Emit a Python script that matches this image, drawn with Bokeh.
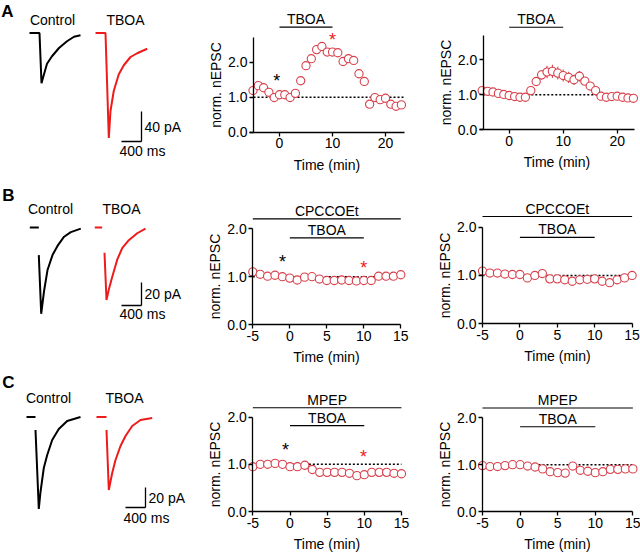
import numpy as np
from bokeh.plotting import figure
from bokeh.layouts import column, row
from bokeh.models import Range1d, FixedTicker, NumeralTickFormatter
from bokeh.core.properties import value
from bokeh.embed import file_html
from bokeh.resources import INLINE

FONT = "Liberation Sans"
FS = "14px"
MARK = "#d8414c"
RED = "#ee1b1b"

# ---------------- data ----------------
TIME_A = [-5, -4, -3, -2, -1, 0, 1, 2, 3, 4, 5, 6, 7, 8, 9, 10, 11, 12, 13, 14,
          15, 16, 17, 18, 19, 20, 21, 22, 23]
A1_NEPSC = [1.19, 1.33, 1.27, 1.14, 0.99, 1.07, 1.07, 0.99, 1.11, 1.47, 1.90, 2.10,
            2.36, 2.45, 2.29, 2.29, 2.27, 2.02, 2.10, 2.05, 1.67, 1.45, 0.80, 0.99,
            0.93, 0.97, 0.80, 0.74, 0.78]
A2_NEPSC = [1.12, 1.10, 1.08, 1.04, 1.01, 0.98, 0.95, 0.93, 0.93, 1.12, 1.38, 1.57,
            1.65, 1.67, 1.62, 1.55, 1.50, 1.43, 1.53, 1.39, 1.25, 1.12, 0.96, 0.93,
            0.95, 0.96, 0.93, 0.91, 0.90]
A2_SEM = [0.03, 0.03, 0.03, 0.03, 0.03, 0.03, 0.03, 0.03, 0.03, 0.06, 0.10, 0.14,
          0.18, 0.19, 0.18, 0.17, 0.16, 0.15, 0.15, 0.12, 0.09, 0.06, 0.03, 0.03,
          0.03, 0.03, 0.03, 0.03, 0.03]

TIME_BC = [-5, -4, -3, -2, -1, 0, 1, 2, 3, 4, 5, 6, 7, 8, 9, 10, 11, 12, 13, 14, 15]
B1_NEPSC = [1.10, 1.05, 1.01, 1.03, 1.00, 0.97, 0.93, 0.99, 1.00, 0.95, 0.92, 0.92,
            0.93, 0.92, 0.91, 0.92, 0.92, 1.01, 1.01, 1.01, 1.04]
B2_NEPSC = [1.09, 1.05, 1.05, 1.03, 1.02, 1.02, 0.95, 1.00, 1.04, 0.93, 0.93, 0.91,
            0.88, 0.91, 0.92, 0.93, 0.88, 0.85, 0.91, 0.95, 1.00]
C1_NEPSC = [0.95, 1.00, 1.00, 1.02, 1.00, 0.95, 0.95, 0.98, 0.89, 0.83, 0.83, 0.83,
            0.83, 0.81, 0.76, 0.78, 0.83, 0.83, 0.83, 0.81, 0.80]
C2_NEPSC = [0.98, 0.96, 0.96, 0.98, 1.00, 1.00, 0.97, 0.95, 0.91, 0.85, 0.83, 0.82,
            0.97, 0.88, 0.86, 0.83, 0.85, 0.90, 0.90, 0.91, 0.91]

# drug application bars: (label, start min, end min, level)
A1_BARS = [("TBOA", 0, 10, 3.00)]
A2_BARS = [("TBOA", 0, 10, 2.93)]
B1_BARS = [("CPCCOEt", -5, 15, 2.21), ("TBOA", 0, 10, 1.81)]
B2_BARS = [("CPCCOEt", -5, 15, 2.22), ("TBOA", 0, 10, 1.79)]
C1_BARS = [("MPEP", -5, 15, 2.20), ("TBOA", 0, 10, 1.82)]
C2_BARS = [("MPEP", -5, 15, 2.21), ("TBOA", 0, 10, 1.81)]

# significance asterisks: (x, y, colour)
A1_STARS = [(-0.5, 1.59, "black"), (10.0, 2.76, RED)]
B1_STARS = [(-1.0, 1.39, "black"), (10.0, 1.27, RED)]
C1_STARS = [(-0.6, 1.38, "black"), (9.9, 1.24, RED)]

NAN = float("nan")
# example EPSC traces: time (ms), current (pA)
A_CTRL_T = [0, 200, 240, 290, 350, 450, 590, 750, 890, 1020]
A_CTRL_I = [0, 0, -67, -55, -41, -31, -20, -11, -5, -3]
A_TBOA_T = [0, 200, 266, 300, 366, 466, 566, 700, 834, 1034]
A_TBOA_I = [0, 0, -140, -104, -77, -55, -43, -32, -27, -21]
B_CTRL_T = [0, 180, NAN, 180, 228, 286, 354, 454, 554, 686, 820, 1020]
B_CTRL_I = [0, 0, NAN, -24, -75, -55, -37, -24, -16, -8, -4, -1]
B_TBOA_T = [0, 147, NAN, 194, 234, 280, 348, 448, 548, 680, 848, 1014]
B_TBOA_I = [0, 0, NAN, -22, -63, -54, -43, -28, -18, -11, -5, -1]
C_CTRL_T = [0, 180, NAN, 180, 246, 280, 346, 414, 514, 646, 814, 1080]
C_CTRL_I = [0, 0, NAN, -13, -92, -75, -51, -38, -23, -12, -4, 0]
C_TBOA_T = [0, 200, NAN, 200, 246, 314, 380, 480, 580, 714, 880, 1114]
C_TBOA_I = [0, 0, NAN, -13, -73, -56, -43, -29, -19, -9, -3, -1]
SCALE_MS = [400, 400, 400]
SCALE_PA = [40, 20, 20]

# ---------------- layout helpers ----------------
COL_EDGES = [0, 200, 420, 640]
ROW_EDGES = [0, 180, 365, 552]
MS_PER_PX = 20.0


def style_axis(ax):
    ax.axis_line_width = 1.3
    ax.axis_line_color = "black"
    ax.major_tick_line_width = 1.3
    ax.major_tick_line_color = "black"
    ax.major_tick_in = 0
    ax.major_tick_out = 4
    ax.minor_tick_line_color = None
    ax.major_label_text_font = FONT
    ax.major_label_text_font_size = FS
    ax.major_label_text_color = "black"
    ax.axis_label_text_font = FONT
    ax.axis_label_text_font_size = FS
    ax.axis_label_text_font_style = "normal"
    ax.axis_label_text_color = "black"


def make_plot(col, r, xmap, ymap, yaxis_x, xbounds, ytop, xticks,
              t, y, bars, sem=None, stars=None):
    cl, cr = COL_EDGES[col], COL_EDGES[col + 1]
    ct, cb = ROW_EDGES[r], ROW_EDGES[r + 1]
    px0, ppx = xmap
    py0, ppy = ymap
    x0 = (cl - px0) / ppx
    x1 = (cr - px0) / ppx
    y0 = (py0 - cb) / ppy
    y1 = (py0 - ct) / ppy
    p = figure(width=cr - cl, height=cb - ct, x_range=Range1d(x0, x1),
               y_range=Range1d(y0, y1), min_border=0, output_backend="svg",
               toolbar_location=None, title=None)
    p.outline_line_color = None
    p.grid.visible = False
    xa = p.xaxis[0]
    ya = p.yaxis[0]
    style_axis(xa)
    style_axis(ya)
    xa.fixed_location = 0
    ya.fixed_location = yaxis_x
    xa.bounds = xbounds
    ya.bounds = (0, ytop)
    xa.ticker = FixedTicker(ticks=xticks)
    xa.major_label_overrides = {tk: str(tk) for tk in xticks}
    ya.ticker = FixedTicker(ticks=[0, 1, 2])
    ya.formatter = NumeralTickFormatter(format="0.0")
    xa.axis_label = "Time (min)"
    ya.axis_label = "norm. nEPSC"
    xa.major_label_standoff = 2
    ya.major_label_standoff = 2
    xa.axis_label_standoff = 5
    ya.axis_label_standoff = 1

    # dotted baseline
    p.segment(x0=[yaxis_x], y0=[1.0], x1=[xbounds[1]], y1=[1.0],
              line_color="black", line_width=1.5, line_dash="2 2")
    # drug bars
    p.segment(x0=[b[1] for b in bars], y0=[b[3] for b in bars],
              x1=[b[2] for b in bars], y1=[b[3] for b in bars],
              line_color="black", line_width=1.2)
    p.text(x=[(b[1] + b[2]) / 2 for b in bars], y=[b[3] for b in bars],
           text=[b[0] for b in bars], text_font=value(FONT),
           text_font_size=value(FS), text_align="center",
           text_baseline="middle", y_offset=-8, text_color="black")
    if sem is not None:
        lo = [a - b for a, b in zip(y, sem)]
        hi = [a + b for a, b in zip(y, sem)]
        p.segment(x0=t, y0=lo, x1=t, y1=hi, line_color=MARK, line_width=1.1)
    p.scatter(t, y, marker="circle", size=8.2, fill_color="white",
              line_color=MARK, line_width=1.1)
    if stars:
        p.text(x=[s[0] for s in stars], y=[s[1] for s in stars],
               text=["*" for s in stars], text_color=[s[2] for s in stars],
               text_font=value(FONT), text_font_size=value("18px"),
               text_align="center", text_baseline="middle", y_offset=4)
    return p


def make_traces(r, x0, yb, k, tboa_x, ctrl_t, ctrl_i, tboa_t, tboa_i,
                scale_ms, scale_pa, corner, letter, letter_pos, title_y,
                ms_label_dy):
    ct, cb = ROW_EDGES[r], ROW_EDGES[r + 1]
    cw = COL_EDGES[1]

    def tx(xr):
        return (xr - x0) * MS_PER_PX

    def ty(yr):
        return (yb - yr) * k

    p = figure(width=cw, height=cb - ct,
               x_range=Range1d(tx(0), tx(cw)),
               y_range=Range1d(ty(cb), ty(ct)),
               min_border=0, x_axis_type=None, y_axis_type=None,
               output_backend="svg", toolbar_location=None, title=None)
    p.outline_line_color = None
    p.grid.visible = False
    p.line(ctrl_t, ctrl_i, line_color="black", line_width=2.0)
    shift = tx(tboa_x)
    p.line([v + shift for v in tboa_t], tboa_i, line_color=RED, line_width=2.0)

    cx, cy = tx(corner[0]), ty(corner[1])
    p.segment(x0=[cx - scale_ms, cx], y0=[cy, cy], x1=[cx, cx],
              y1=[cy, cy + scale_pa], line_color="black", line_width=1.3)
    p.text(x=[cx], y=[cy + scale_pa / 2], text=[f"{scale_pa} pA"],
           x_offset=3, text_font=value(FONT), text_font_size=value(FS),
           text_align="left", text_baseline="middle")
    p.text(x=[cx - scale_ms], y=[cy], text=[f"{scale_ms} ms"],
           x_offset=-2, y_offset=ms_label_dy, text_font=value(FONT),
           text_font_size=value(FS), text_align="left", text_baseline="middle")
    p.text(x=[tx(letter_pos[0])], y=[ty(letter_pos[1])], text=[letter],
           text_font=value(FONT), text_font_size=value("17px"),
           text_font_style="bold", text_align="center", text_baseline="middle")
    p.text(x=[tx(title_y[0]), tx(title_y[1])], y=[ty(title_y[2])] * 2,
           text=["Control", "TBOA"], text_font=value(FONT),
           text_font_size=value(FS), text_align="center",
           text_baseline="middle")
    return p


tA = make_traces(0, 29, 32.5, 40 / 30, 95, A_CTRL_T, A_CTRL_I, A_TBOA_T,
                 A_TBOA_I, SCALE_MS[0], SCALE_PA[0], (141, 141), "A",
                 (7, 11), (52, 125, 19), 9)
tB = make_traces(1, 29.3, 227, 20 / 23, 94.3, B_CTRL_T, B_CTRL_I, B_TBOA_T,
                 B_TBOA_I, SCALE_MS[1], SCALE_PA[1], (141, 305), "B",
                 (8, 195), (50, 121, 208), 8)
tC = make_traces(2, 26, 416.5, 1.0, 96, C_CTRL_T, C_CTRL_I, C_TBOA_T,
                 C_TBOA_I, SCALE_MS[2], SCALE_PA[2], (145, 507), "C",
                 (8, 382), (48, 124, 397), 10)

pA1 = make_plot(1, 0, (279, 5.3), (131.7, 35), -4.9, (-5.66, 23.5), 2.7,
                [0, 10, 20], TIME_A, A1_NEPSC, A1_BARS, stars=A1_STARS)
pA2 = make_plot(2, 0, (508.7, 5.4), (129.3, 35), -4.8, (-5.44, 23.2), 2.69,
                [0, 10, 20], TIME_A, A2_NEPSC, A2_BARS, sem=A2_SEM)
pB1 = make_plot(1, 1, (289.3, 7.4), (324, 47.83), -5, (-5, 15), 2.0,
                [-5, 0, 5, 10, 15], TIME_BC, B1_NEPSC, B1_BARS, stars=B1_STARS)
pB2 = make_plot(2, 1, (519.4, 7.48), (323.3, 48.33), -5, (-5, 15), 2.0,
                [-5, 0, 5, 10, 15], TIME_BC, B2_NEPSC, B2_BARS)
pC1 = make_plot(1, 2, (289.5, 7.43), (511, 47.17), -5, (-5, 15), 2.0,
                [-5, 0, 5, 10, 15], TIME_BC, C1_NEPSC, C1_BARS, stars=C1_STARS)
pC2 = make_plot(2, 2, (519.6, 7.52), (511, 46.83), -5, (-5, 15), 2.0,
                [-5, 0, 5, 10, 15], TIME_BC, C2_NEPSC, C2_BARS)

p = column(row(tA, pA1, pA2, spacing=0), row(tB, pB1, pB2, spacing=0),
           row(tC, pC1, pC2, spacing=0), spacing=0)

with open("out.html", "w") as f:
    f.write(file_html(p, INLINE))
